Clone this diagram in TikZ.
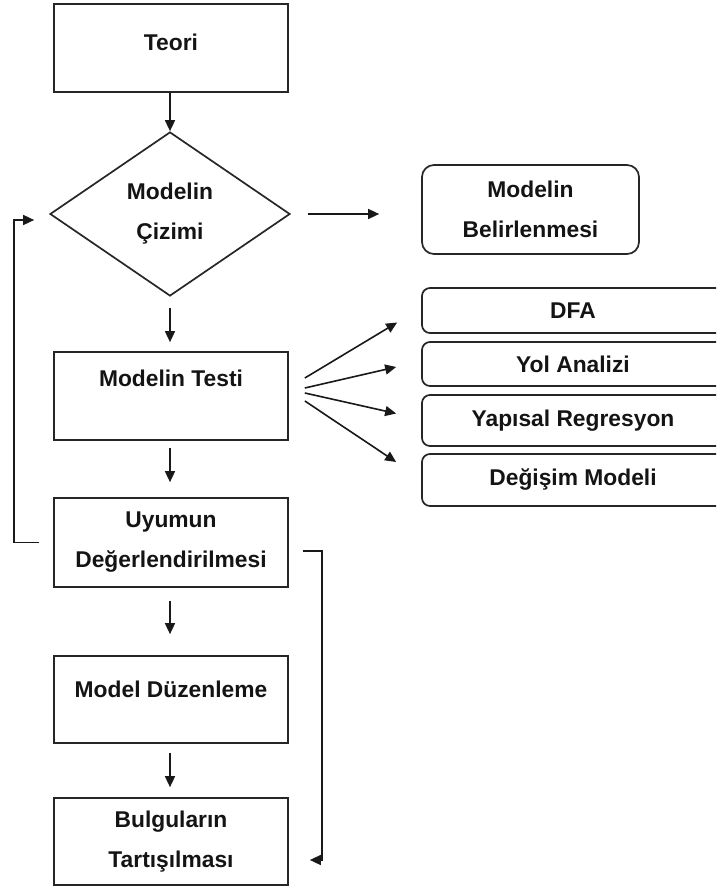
\documentclass[tikz,border=0pt]{standalone}
\usepackage{fontspec}
\setmainfont{Liberation Sans}
\usetikzlibrary{shapes.geometric,arrows.meta}
\newcommand\diagfont{\bfseries\fontsize{22.8}{40}\selectfont}
\begin{document}
\begin{tikzpicture}[x=1pt,y=-1pt,
  line/.style={draw=black!85, line width=1.7pt},
  arr/.style={draw=black!90, line width=1.6pt, -{Triangle[length=11pt,width=10pt]}},
  txt/.style={font=\diagfont, text=black!92, align=center, inner sep=0pt},
  box/.style={line, txt, rectangle, minimum width=234pt, minimum height=88pt},
  rbox/.style={line, txt, rectangle, rounded corners=12pt, minimum width=217pt, minimum height=89pt},
  method/.style={line, txt, rectangle, rounded corners=8pt, minimum width=302pt},
  decision/.style={line, txt, diamond, minimum width=240pt, minimum height=164pt}
]
\useasboundingbox (0,0) rectangle (716,890);
\clip (0,0) rectangle (716,890);

% main column
\node[box] (teori) at (171,48) {};
\node[txt, yshift=6pt] (teoritxt) at (teori) {Teori};
\node[decision] (cizim) at (170,214) {Modelin\\Çizimi};
\node[box] (testi) at (171,396) {};
\node[txt, yshift=17.5pt] (testitxt) at (testi) {Modelin Testi};
\node[box, minimum height=89pt] (uyum) at (171,542.5) {Uyumun\\Değerlendirilmesi};
\node[box, minimum height=87pt] (duzen) at (171,699.5) {};
\node[txt, yshift=10pt] (duzentxt) at (duzen) {Model Düzenleme};
\node[box, minimum height=87pt] (bulgu) at (171,841.5) {Bulguların\\Tartışılması};

% right column
\node[rbox] (belir) at (530.5,209.5) {Modelin\\Belirlenmesi};
\node[method, minimum height=45pt] (dfa) at (573,310.5) {DFA};
\node[method, minimum height=44pt] (yol) at (573,364) {Yol Analizi};
\node[method, minimum height=51pt] (yap) at (573,420.5) {Yapısal Regresyon};
\node[method, minimum height=52pt] (deg) at (573,480) {Değişim Modeli};

% vertical flow
\draw[arr] (teori.south -| cizim.north) -- (cizim.north);
\draw[arr] ([yshift=-11pt]cizim.south) -- ([yshift=9pt]testi.north -| cizim.south);
\draw[arr] ([yshift=-7pt]testi.south -| cizim.south) -- ([yshift=15pt]uyum.north -| cizim.south);
\draw[arr] ([yshift=-13pt]uyum.south -| cizim.south) -- ([yshift=21pt]duzen.north -| cizim.south);
\draw[arr] ([yshift=-9pt]duzen.south -| cizim.south) -- ([yshift=10pt]bulgu.north -| cizim.south);

% to the right
\draw[arr] ([xshift=17pt]cizim.east) -- ([xshift=-42pt]cizim.east -| belir.west);
\draw[arr] ([shift={(16pt,18pt)}]testi.east) -- ([shift={(-24pt,-12pt)}]dfa.west);
\draw[arr] ([shift={(16pt,8pt)}]testi.east) -- ([shift={(-25pt,-3pt)}]yol.west);
\draw[arr] ([shift={(16pt,3pt)}]testi.east) -- ([shift={(-25pt,7pt)}]yap.west);
\draw[arr] ([shift={(16pt,-5pt)}]testi.east) -- ([shift={(-25pt,18pt)}]deg.west);

% feedback loop back to the diamond
\draw[arr] ([xshift=-14pt]uyum.west) -- ++(-25,0) |- ([shift={(-15pt,-6pt)}]cizim.west);

% bypass to the results
\draw[arr] ([shift={(14pt,-8.5pt)}]uyum.east) -- ++(19,0) |- ([shift={(21pt,-18.5pt)}]bulgu.east);
\end{tikzpicture}
\end{document}
